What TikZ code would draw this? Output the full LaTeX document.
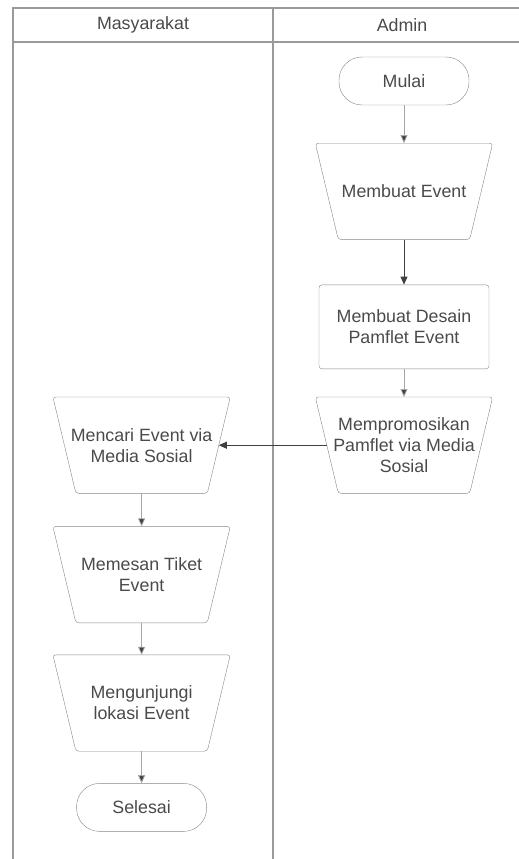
\documentclass[tikz,border=0pt]{standalone}
\usepackage{fontspec}
\setmainfont{Liberation Sans}
\usetikzlibrary{arrows.meta, positioning}
\definecolor{lanegray}{HTML}{9A9A9A}
\definecolor{boxgray}{HTML}{858585}
\definecolor{textgray}{HTML}{4A4A4A}

\begin{document}
\begin{tikzpicture}[->, >={Triangle[width=7pt,length=8pt]}, font=\fontsize{17.8}{21}\selectfont, text=textgray]
    \tikzstyle{terminal} = [draw=boxgray, rectangle, rounded corners=23pt, minimum width=130pt, minimum height=48pt, text centered]
    \tikzstyle{manual} = [rectangle, minimum width=177pt, minimum height=96pt, align=center]
    \tikzstyle{manualborder} = [-, draw=boxgray, rounded corners=3pt]
    \tikzstyle{process} = [draw=boxgray, rectangle, rounded corners=3pt, minimum width=170pt, minimum height=84pt, align=center]
    \tikzstyle{flow} = [draw=black!75, line width=0.8pt]
    \tikzstyle{softflow} = [draw=black!35, line width=0.8pt, -{Triangle[width=7pt,length=8pt,fill=black!75]}]
    \useasboundingbox (0,0) rectangle (519pt,-859pt);
    % lanes
    \draw[-, lanegray, line width=1.5pt] (13pt,-880pt) -- (13pt,-8pt) -- (540pt,-8pt);
    \draw[-, lanegray, line width=1.5pt] (13pt,-42pt) -- (540pt,-42pt);
    \draw[-, lanegray, line width=1.5pt] (273pt,-8pt) -- (273pt,-880pt);
    \node at (143pt,-25pt) (masy) {Masyarakat};
    \node at (402pt,-25pt) (admin) {Admin};
    % admin
    \node [terminal] at (404pt,-81pt) (mulai) {Mulai};
    \node [manual, below=38pt of mulai] (membuat) {Membuat Event};
    \node [process, below=45pt of membuat] (desain) {Membuat Desain\\Pamflet Event};
    \node [manual, below=28pt of desain] (promo) {Mempromosikan\\Pamflet via Media\\Sosial};
    % masyarakat
    \node [manual, left=85pt of promo] (mencari) {Mencari Event via\\Media Sosial};
    \node [manual, below=33pt of mencari] (memesan) {Memesan Tiket\\Event};
    \node [manual, below=32pt of memesan] (kunjungi) {Mengunjungi\\lokasi Event};
    \node [terminal, below=32pt of kunjungi] (selesai) {Selesai};
    % trapezium borders
    \foreach \n in {membuat, promo, mencari, memesan, kunjungi}
        \draw[manualborder] (\n.north west) -- (\n.north east) -- ([xshift=-23pt]\n.south east) -- ([xshift=23pt]\n.south west) -- cycle;
    \draw[softflow] (mulai) -- (membuat);
    \draw[flow] (membuat) -- (desain);
    \draw[softflow] (desain) -- (promo);
    \draw[flow] ([xshift=11.5pt]promo.west) -- ([xshift=-11.5pt]mencari.east);
    \draw[softflow] (mencari) -- (memesan);
    \draw[softflow] (memesan) -- (kunjungi);
    \draw[softflow] (kunjungi) -- (selesai);
\end{tikzpicture}
\end{document}
